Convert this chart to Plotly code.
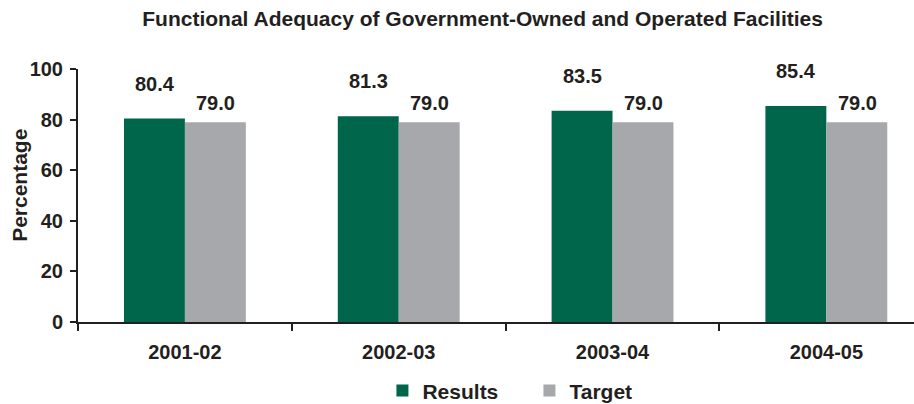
import plotly.graph_objects as go

years = ["2001-02", "2002-03", "2003-04", "2004-05"]
results = [80.4, 81.3, 83.5, 85.4]
target = [79.0, 79.0, 79.0, 79.0]

GREEN = "#00664b"
GRAY = "#a7a8ac"
INK = "#231f20"
FONT = "Liberation Sans, Arial, sans-serif"

fig = go.Figure()
fig.add_trace(go.Bar(x=years, y=results, name="<b>Results</b>", marker_color=GREEN,
                     marker_line_width=0))
fig.add_trace(go.Bar(x=years, y=target, name="<b>Target</b>", marker_color=GRAY,
                     marker_line_width=0))

# value labels above each bar
for yr, v in zip(years, results):
    fig.add_annotation(x=yr, y=v, text=f"<b>{v:.1f}</b>", showarrow=False,
                       xshift=-30, yshift=35, yanchor="middle",
                       font=dict(size=20, color=INK, family=FONT))
for yr, v in zip(years, target):
    fig.add_annotation(x=yr, y=v, text=f"<b>{v:.1f}</b>", showarrow=False,
                       xshift=31, yshift=19, yanchor="middle",
                       font=dict(size=20, color=INK, family=FONT))

# y-axis title
fig.add_annotation(x=-0.07, y=0.54, xref="paper", yref="paper", text="<b>Percentage</b>",
                   textangle=-90, showarrow=False, xanchor="center", yanchor="middle",
                   font=dict(size=21, color=INK, family=FONT))

fig.update_layout(
    width=914, height=404,
    margin=dict(l=78, r=0, t=69, b=82, autoexpand=False),
    paper_bgcolor="white", plot_bgcolor="white",
    barmode="group", bargap=0.43, bargroupgap=0,
    font=dict(family=FONT, color=INK),
    title=dict(text="<b>Functional Adequacy of Government-Owned and Operated Facilities</b>",
               x=0.528, xanchor="center", y=0.953, yanchor="middle",
               font=dict(size=21, color=INK, family=FONT)),
    legend=dict(orientation="h", x=0.54, xanchor="center", y=-0.272, yanchor="middle",
                font=dict(size=21, color=INK, family=FONT), itemwidth=30,
                entrywidth=102, traceorder="normal"),
    showlegend=True,
)
fig.update_xaxes(
    type="category", range=[-0.5, 3.41], showline=True, linecolor=INK, linewidth=2,
    ticks="outside", tickson="boundaries", ticklen=7, tickwidth=2, tickcolor=INK,
    tickfont=dict(size=20, color=INK, family=FONT), tickprefix="<b>", ticksuffix="</b>",
    ticklabelstandoff=11, showgrid=False,
)
fig.update_yaxes(
    range=[0, 100], dtick=20, showline=True, linecolor=INK, linewidth=2,
    ticks="outside", ticklen=6, tickwidth=2, tickcolor=INK,
    tickfont=dict(size=20, color=INK, family=FONT), tickprefix="<b>", ticksuffix="</b>",
    ticklabelstandoff=3, showgrid=False, zeroline=False,
)

fig.write_html("out.html")
